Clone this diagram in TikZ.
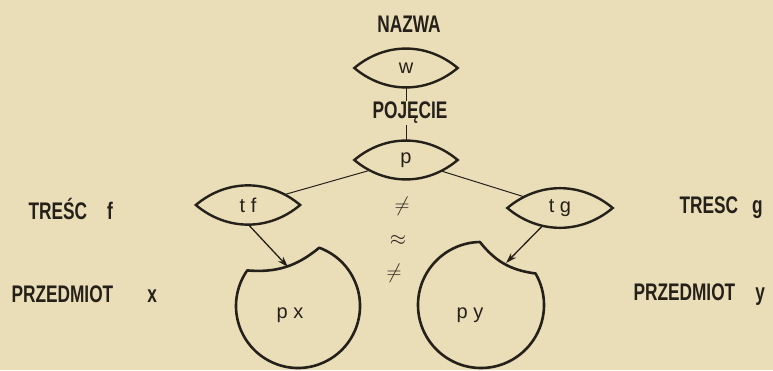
\documentclass[tikz,border=0pt]{standalone}
\usepackage{fontspec}
\setmainfont{Liberation Sans}
\newfontfamily\handcaps[FakeStretch=0.72]{Liberation Sans}
\usetikzlibrary{arrows.meta,calc}
\definecolor{paper}{RGB}{234,222,184}
\definecolor{ink}{RGB}{38,32,26}
\pgfdeclarelayer{back}
\pgfdeclarelayer{mid}
\pgfsetlayers{back,mid,main}
% pointed lens drawn round a named node
\newcommand\lensshape[1]{\draw[lensline] (#1.west) to[out=40,in=140] (#1.east) to[out=-140,in=-40] (#1.west) -- cycle;}

\begin{document}
\begin{tikzpicture}[x=1pt,y=1pt,line join=round,
  caps/.style={font=\handcaps\bfseries\fontsize{24}{24}\selectfont,text=ink},
  small/.style={font=\fontsize{20}{20}\selectfont,text=ink},
  lens/.style={small,minimum width=103pt,minimum height=40pt,inner sep=0pt},
  lensline/.style={draw=ink,line width=2.4pt,fill=paper},
  link/.style={draw=ink,line width=1pt},
  pointer/.style={draw=ink,line width=1.3pt,-{Stealth[length=11pt,width=7pt]}},
  rim/.style={draw=ink,line width=2.6pt},
  rel/.style={font=\fontsize{20}{20}\selectfont,text=ink}]
\useasboundingbox (0,0) rectangle (773,370);

% name and concept
\node[caps] (nazwa) at (409,346) {NAZWA};
\node[lens] (w) at (406,302) {w};
\node[caps,fill=paper,inner sep=1pt] (pojecie) at (410,257) {POJĘCIE};
\node[lens] (p) at (406,210) {p};

% contents
\node[lens,minimum width=104pt,minimum height=38pt] (tf) at (248,165) {t f};
\node[lens,minimum width=105pt,minimum height=38pt] (tg) at (560,162) {t g};

% objects
\coordinate (pxc) at (298,64);
\coordinate (pyc) at (481,65);
\coordinate (pxbite) at (288,103);
\coordinate (pybite) at (506,107);
\node[small] (px) at (290,55) {p x};
\node[small] (py) at (470,55) {p y};

% relations
\node[rel] (ne1) at (402,164) {$\neq$};
\node[rel] (approx) at (398,130) {$\approx$};
\node[rel] (ne2) at (394,97) {$\neq$};

% side labels
\node[caps,anchor=west] (trescf) at (25,161) {TREŚC\hspace{20pt}f};
\node[caps,anchor=west] (przedx) at (8,76) {PRZEDMIOT\hspace{34pt}x};
\node[caps,anchor=west] (trescg) at (676,162) {TRESC\hspace{14pt}g};
\node[caps,anchor=west] (przedy) at (630,75) {PRZEDMIOT\hspace{20pt}y};

\begin{pgfonlayer}{back}
  \fill[paper] (0,0) rectangle (773,370);
  \draw[link] (w.center) -- (p.center);
  \draw[link] (p.center) -- (tf.center);
  \draw[link] (p.center) -- (tg.center);
  \draw[pointer] (tf.south) -- (pxbite);
  \draw[pointer] (tg.center) -- (pybite);
\end{pgfonlayer}
\begin{pgfonlayer}{mid}
  \lensshape{w}
  \lensshape{p}
  \lensshape{tf}
  \lensshape{tg}
\end{pgfonlayer}

% bitten circles
\coordinate (pxr) at ($(pxc)+(70:62)$);
\draw[rim] (pxr) arc[start angle=70,end angle=-215,radius=62pt] to[bend right=22] (pxr) -- cycle;
\coordinate (pyl) at ($(pyc)+(91:63)$);
\draw[rim] (pyl) arc[start angle=91,end angle=390,radius=63pt] to[bend left=22] (pyl) -- cycle;
\end{tikzpicture}
\end{document}
